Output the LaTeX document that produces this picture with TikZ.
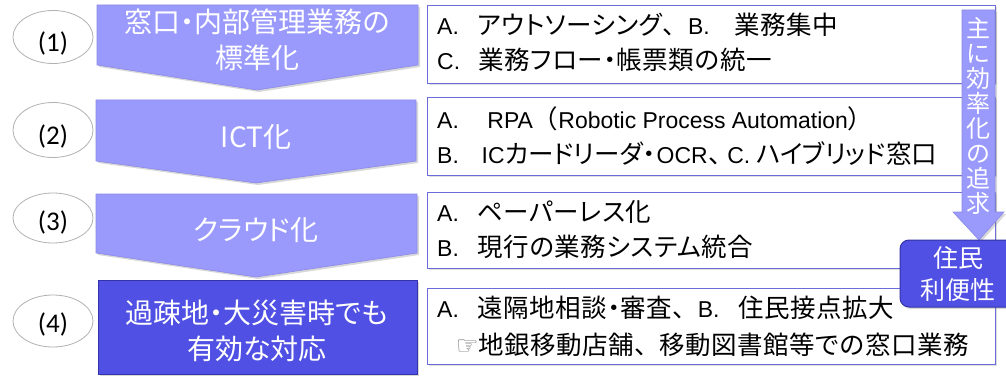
\documentclass[tikz,border=0pt]{standalone}
\usepackage{fontspec}
\setmainfont{Noto Sans CJK JP}[RawFeature=+palt]
\newfontfamily\lsfont{Noto Sans CJK JP}[RawFeature=+palt, LetterSpace=2]
\newfontfamily\fwfont{Noto Sans CJK JP}
\newfontfamily\latfont{Liberation Sans}[Scale=0.9]
\newfontfamily\calfont{Carlito}
\newfontfamily\dvfont{DejaVu Sans}
\newcommand\tenc{{\fwfont 、}}
\usetikzlibrary{shadows,shapes.geometric}
\definecolor{lightb}{HTML}{9A9AFC}
\definecolor{lightbd}{HTML}{8A8AE8}
\definecolor{darkb}{HTML}{5050E4}
\definecolor{darkbd}{HTML}{3434A8}
\definecolor{boxbd}{HTML}{6C6CD8}
\begin{document}
\begin{tikzpicture}[x=1pt,y=-1pt,
  chev/.style={fill=lightb, draw=lightbd, line width=0.6pt,
    drop shadow={shadow xshift=2pt, shadow yshift=-2pt, opacity=0.3}},
  darkshape/.style={fill=darkb, draw=darkbd, line width=1pt,
    drop shadow={shadow xshift=2pt, shadow yshift=-2pt, opacity=0.3}},
  chevtext/.style={text=white, align=center, inner sep=0pt,
    font=\fontsize{28}{36}\selectfont},
  oval/.style={ellipse, draw=black!30, line width=0.8pt, fill=white,
    minimum width=80pt, minimum height=53pt, inner sep=0pt},
  ovaltext/.style={inner sep=0pt, font=\calfont\fontsize{27}{30}\selectfont},
  rbox/.style={rectangle, draw=boxbd, line width=1.4pt, fill=white,
    anchor=north west, minimum width=568pt, inner sep=0pt,
    drop shadow={shadow xshift=1.5pt, shadow yshift=-1.5pt, opacity=0.25}},
  boxtext/.style={anchor=west, align=left, inner sep=0pt,
    font=\lsfont\fontsize{25.5}{35}\selectfont},
]
\clip (0,0) rectangle (1006,377);
\fill[white] (0,0) rectangle (1006,377);

% ovals
\node[oval] (e1) at (53,37) {};
\node[ovaltext] (l1) at (53,43) {(1)};
\node[oval, minimum height=55pt] (e2) at (53,130) {};
\node[ovaltext] (l2) at (53,136) {(2)};
\node[oval, minimum height=50pt] (e3) at (53,218) {};
\node[ovaltext] (l3) at (53,222) {(3)};
\node[oval, minimum height=52pt] (e4) at (53,321) {};
\node[ovaltext] (l4) at (53,324) {(4)};

% chevrons
\path[chev] (97,5) -- (418,5) -- (418,65) -- (257,90) -- (97,65) -- cycle;
\node[chevtext] (c1) at (257,40) {窓口・内部管理業務の\\標準化};
\path[chev] (96,100) -- (416,100) -- (416,161) -- (256,183) -- (96,161) -- cycle;
\node[chevtext] (c2) at (256,137) {ICT化};
\path[chev] (96,194) -- (417,194) -- (417,253) -- (256,277) -- (96,253) -- cycle;
\node[chevtext] (c3) at (256,230) {クラウド化};
\path[darkshape] (98,280) rectangle (417,374);
\node[chevtext] (c4) at (257,331) {過疎地・大災害時でも\\有効な対応};

% right boxes
\node[rbox, minimum height=78pt] (b1) at (427,5) {};
\node[boxtext] (t1) at (437,42) {{\latfont A.}\ \ \ アウトソーシング\tenc{\latfont B.}\ \ \ \ 業務集中\\{\latfont C.}\ \ \ 業務フロー・帳票類の統一};
\node[rbox, minimum height=78pt] (b2) at (427,97) {};
\node[boxtext, font=\fontsize{25.5}{35}\selectfont] (t2) at (437,136) {{\latfont A.}\ \ \ \ \ {\latfont RPA}{\fwfont （}{\latfont Robotic Process Automation}{\fwfont ）}\\{\latfont B.}\ \ \ \ {\latfont IC}カードリーダ・\hspace{1pt}{\latfont OCR}\hspace{1pt}、\hspace{6pt}{\latfont C.}\ ハイブリッド窓口};
\node[rbox, minimum height=76pt] (b3) at (427,192) {};
\node[boxtext] (t3) at (437,230) {{\latfont A.}\ \ \ ペーパーレス化\\{\latfont B.}\ \ \ 現行の業務システム統合};
\node[rbox, minimum height=76pt] (b4) at (427,288) {};
\node[boxtext, font=\lsfont\fontsize{25.5}{37}\selectfont] (t4) at (437,326) {{\latfont A.}\ \ \ 遠隔地相談・審査\tenc{\latfont B.}\ \ \ 住民接点拡大\\\ \ \ {\dvfont\color{black!55}☞}地銀移動店舗\tenc 移動図書館等での窓口業務};

% vertical arrow
\path[chev] (962,10) -- (995,10) -- (995,212) -- (1004,212) -- (979,240) -- (953,212) -- (962,212) -- cycle;
\node[text=white, align=center, inner sep=0pt,
  font=\fontsize{24}{25}\selectfont] (va) at (978.5,116) {主\\に\\効\\率\\化\\の\\追\\求};

% resident box
\path[darkshape, rounded corners=9pt] (900,240) rectangle (1018,307);
\node[chevtext, font=\fontsize{25}{32}\selectfont] (rb) at (958,274) {住民\\利便性};
\end{tikzpicture}
\end{document}
